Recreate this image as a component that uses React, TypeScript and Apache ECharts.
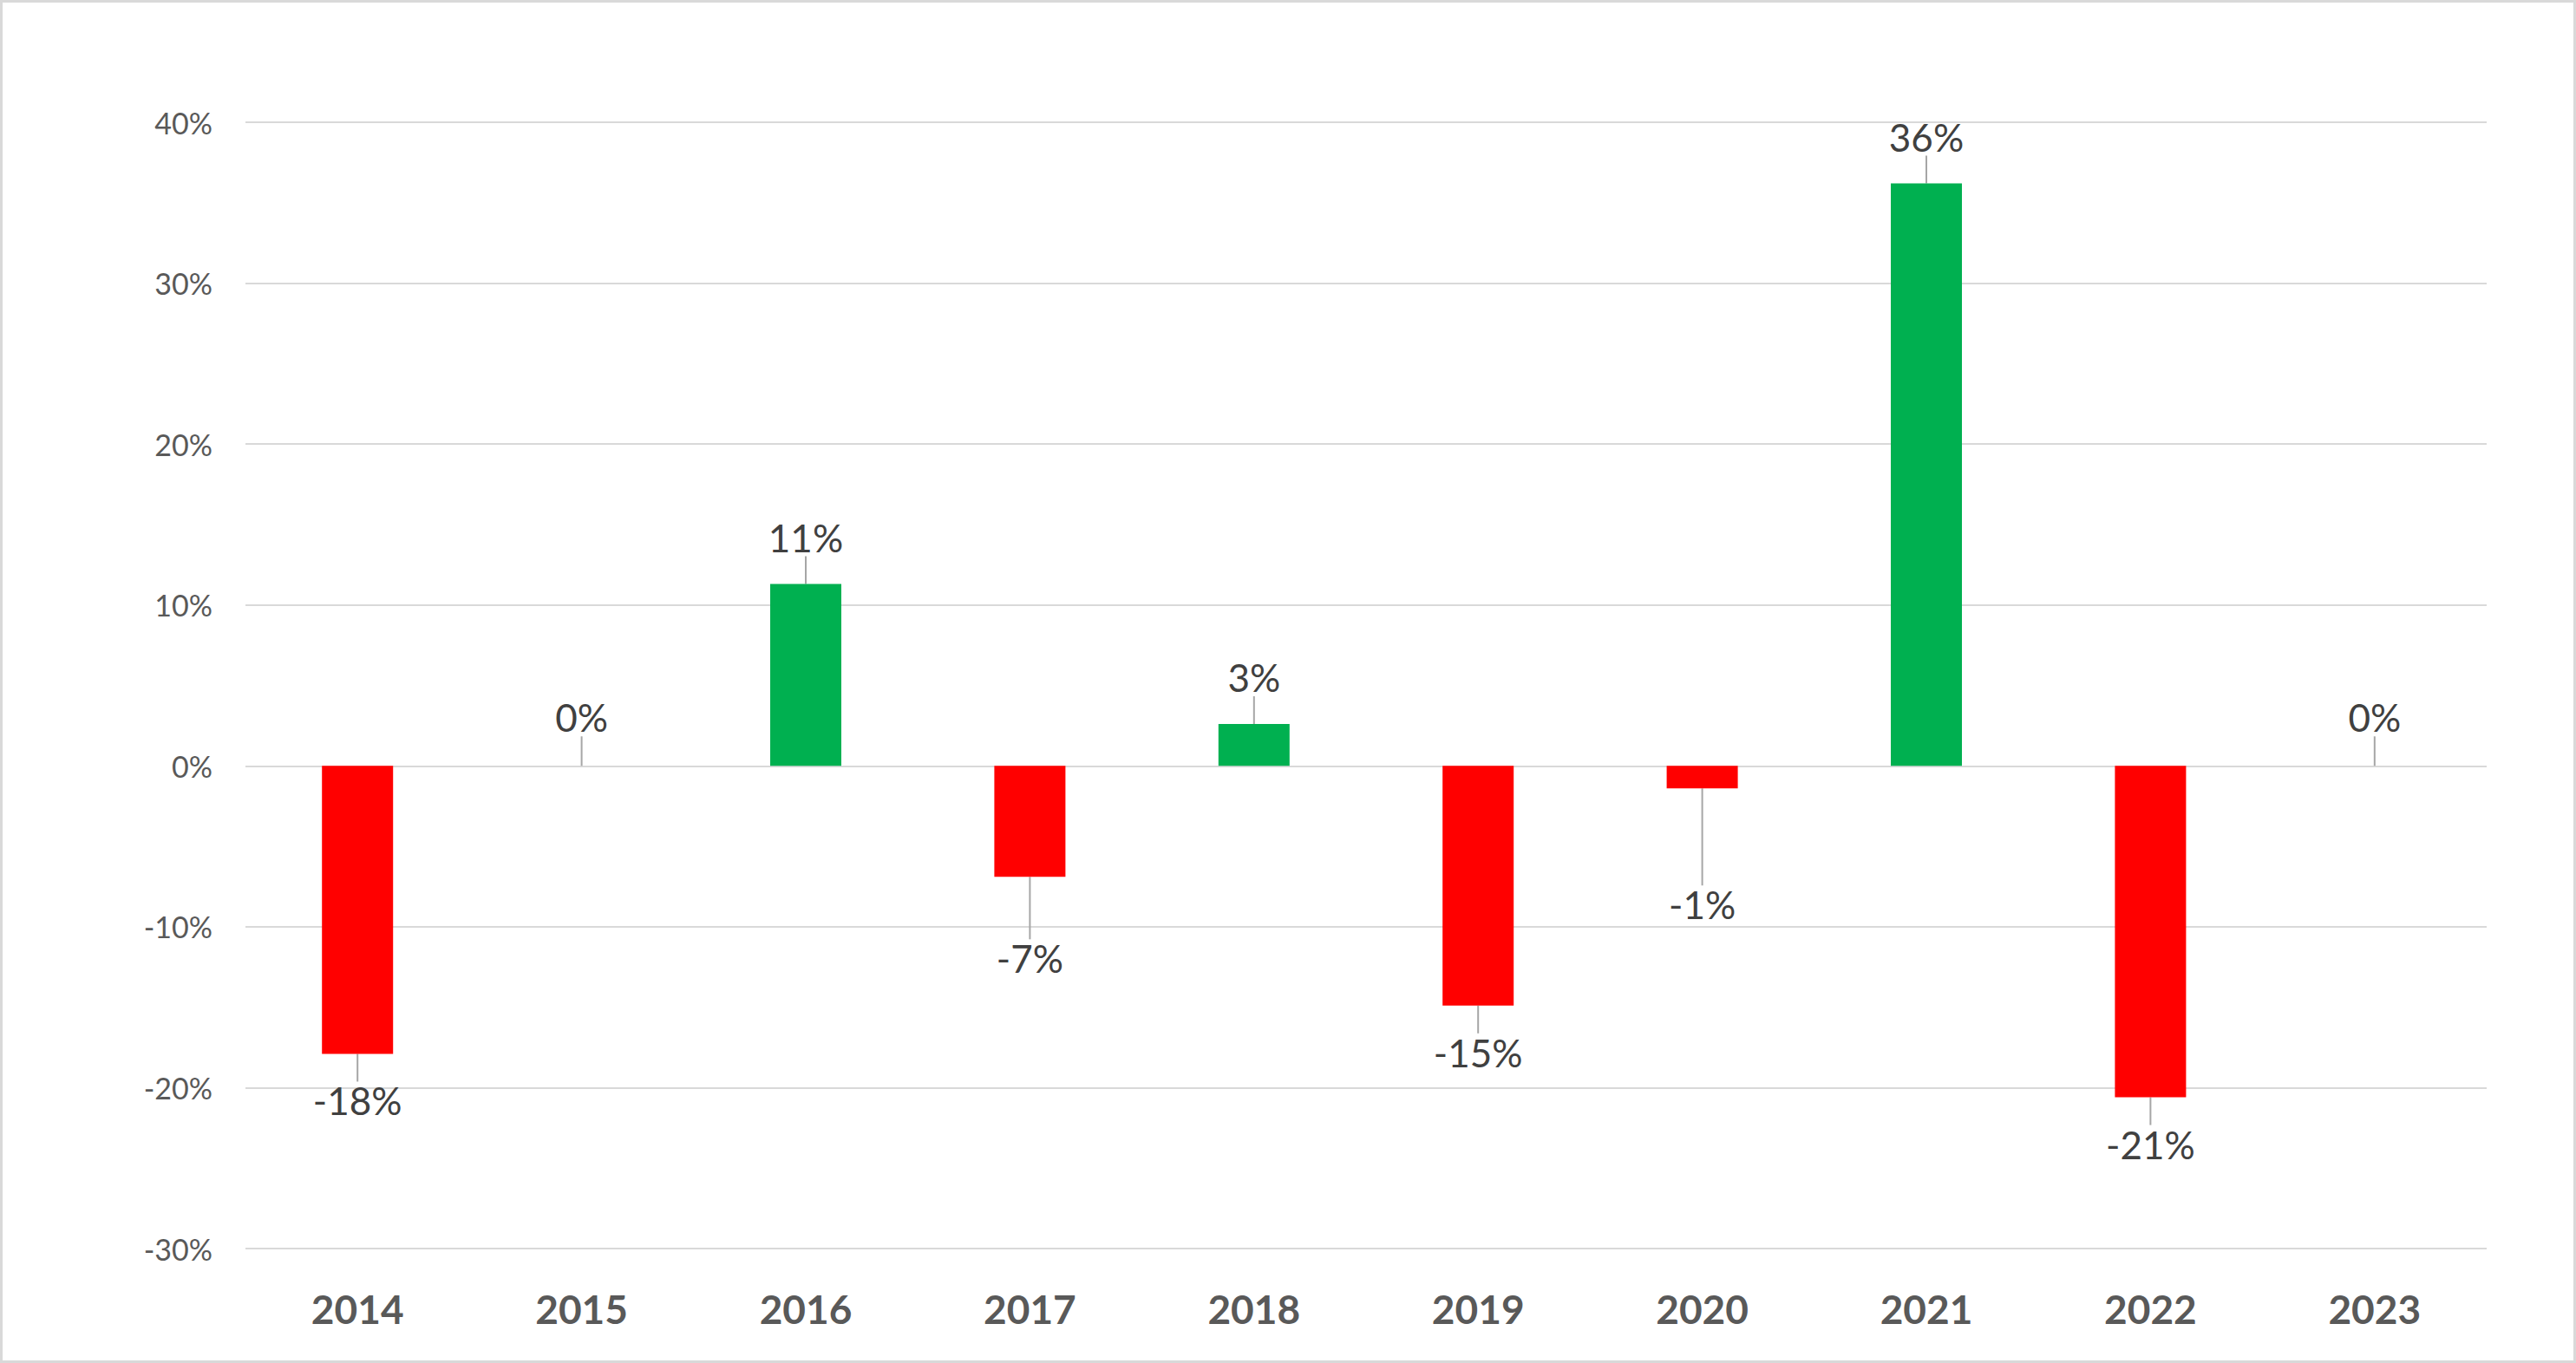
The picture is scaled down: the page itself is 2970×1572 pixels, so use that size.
import React, { useEffect, useRef } from "react";
import * as echarts from "echarts";

const categories = ["2014", "2015", "2016", "2017", "2018", "2019", "2020", "2021", "2022", "2023"];
const values = [-17.9, 0, 11.3, -6.9, 2.6, -14.9, -1.4, 36.2, -20.6, 0];
const labels = ["-18%", "0%", "11%", "-7%", "3%", "-15%", "-1%", "36%", "-21%", "0%"];
const labelShift = [0, 0, 0, 40, 0, 0, 80, 0, 0, 0];

export default function App() {
  const ref = useRef<HTMLDivElement>(null);
  useEffect(() => {
    document.body.style.margin = "0";
    const chart = echarts.init(ref.current!, null, { renderer: "svg" });
    const font = "Lato, 'Open Sans', sans-serif";
    chart.setOption({
      animation: false,
      grid: { left: 280, right: 100, top: 138, bottom: 129 },
      xAxis: {
        type: "category",
        data: categories,
        axisLine: { show: true, onZero: true, lineStyle: { color: "rgba(0,0,0,0)" } },
        axisTick: { show: false },
        axisLabel: { margin: 46, fontSize: 46, fontWeight: "bold", color: "#595959", fontFamily: font },
        z: 10,
      },
      yAxis: {
        type: "value",
        min: -30,
        max: 40,
        interval: 10,
        axisLabel: { formatter: "{value}%", fontSize: 34, color: "#595959", fontFamily: font, margin: 38 },
        splitLine: { lineStyle: { color: "#d9d9d9", width: 2 } },
      },
      series: [
        {
          type: "bar",
          barWidth: 82,
          z: 2,
          labelLayout: (p: any) => (labelShift[p.dataIndex] ? { dy: labelShift[p.dataIndex] } : {}),
          labelLine: { show: true, lineStyle: { color: "#a6a6a6", width: 2 } },
          data: values.map((v, i) => ({
            value: v,
            itemStyle: { color: v < 0 ? "#FF0000" : "#00B050" },
            label: {
              show: true,
              position: v < 0 ? "bottom" : "top",
              distance: v === 0 ? 34 : 32,
              formatter: labels[i],
              fontSize: 44,
              color: "#404040",
              fontFamily: font,
            },
          })),
        },
      ],
    });
    return () => chart.dispose();
  }, []);
  return (
    <div style={{ width: 2970, height: 1572, boxSizing: "border-box", border: "3px solid #d9d9d9", background: "#fff" }}>
      <div ref={ref} style={{ width: 2964, height: 1566 }} />
    </div>
  );
}
